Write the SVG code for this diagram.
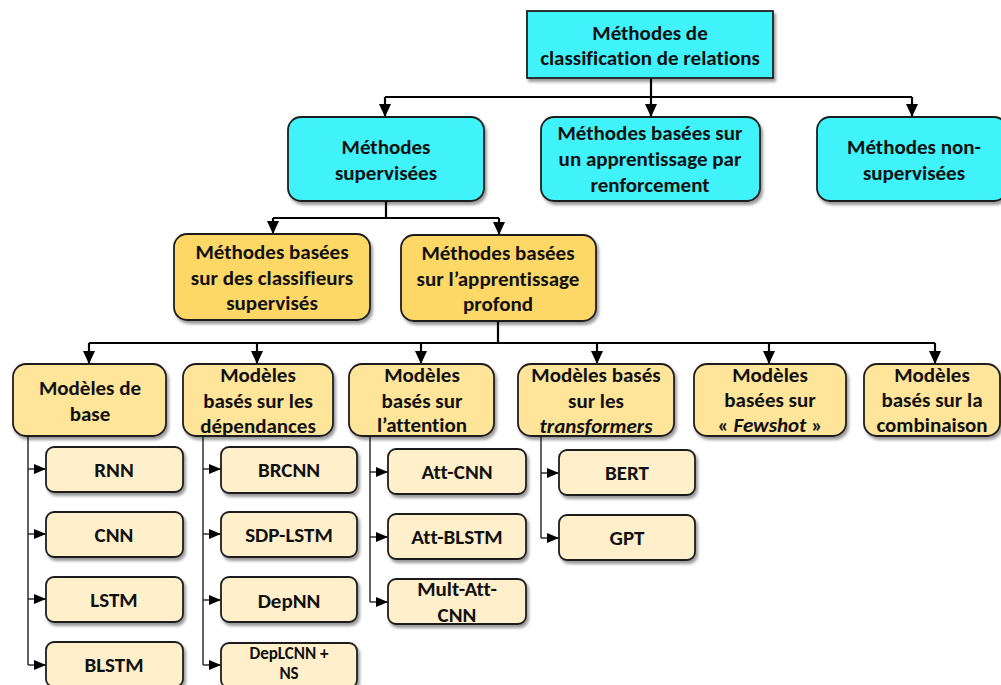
<svg xmlns="http://www.w3.org/2000/svg" width="1001" height="685" viewBox="0 0 1001 685">
  <style>
    text { font-family: Carlito, Lato, "Liberation Sans", sans-serif; font-weight: bold; font-size: 21px; fill: #111; text-anchor: middle; font-variant-ligatures: none; }
    .box { stroke: #1e1e1e; stroke-width: 1.8; filter: url(#shadow); }
    .cyan { fill: #3ff3fb; }
    .gold { fill: #fed866; }
    .sand { fill: #ffe599; }
    .cream { fill: #fff0cb; }
    .link { fill: none; stroke: #000; stroke-width: 2.2; }
    .twig { fill: none; stroke: #222; stroke-width: 1.4; }
    .tight { font-size: 17px; }
  </style>
  <defs>
    <filter id="shadow" x="-10%" y="-10%" width="125%" height="135%">
      <feDropShadow dx="2" dy="3" stdDeviation="1.8" flood-color="#000" flood-opacity="0.4"/>
    </filter>
    <marker id="head" markerUnits="userSpaceOnUse" markerWidth="14" markerHeight="14" viewBox="0 0 14 14" refX="13" refY="7" orient="auto">
      <path d="M0,1 L13,7 L0,13 Z" fill="#000"/>
    </marker>
    <marker id="tip" markerUnits="userSpaceOnUse" markerWidth="12" markerHeight="12" viewBox="0 0 12 12" refX="12" refY="6" orient="auto">
      <path d="M0,1 L12,6 L0,11 Z" fill="#000"/>
    </marker>
  </defs>

  <!-- connectors -->
  <g id="connectors">
    <path class="link" d="M651,78 V97 M385,97 H912"/>
    <path class="link" d="M385,97 V117" marker-end="url(#head)"/>
    <path class="link" d="M651,97 V117" marker-end="url(#head)"/>
    <path class="link" d="M912,97 V117" marker-end="url(#head)"/>

    <path class="link" d="M386,201 V218 M273,218 H499"/>
    <path class="link" d="M273,218 V234" marker-end="url(#head)"/>
    <path class="link" d="M499,218 V235" marker-end="url(#head)"/>

    <path class="link" d="M498,321 V343 M89,343 H935"/>
    <path class="link" d="M89,343 V364" marker-end="url(#head)"/>
    <path class="link" d="M257,343 V364" marker-end="url(#head)"/>
    <path class="link" d="M421,343 V364" marker-end="url(#head)"/>
    <path class="link" d="M597,343 V364" marker-end="url(#head)"/>
    <path class="link" d="M769,343 V364" marker-end="url(#head)"/>
    <path class="link" d="M935,343 V364" marker-end="url(#head)"/>

    <!-- leaf branches -->
    <path class="twig" d="M28,436 V665"/>
    <path class="twig" d="M28,469 H46" marker-end="url(#tip)"/>
    <path class="twig" d="M28,534 H46" marker-end="url(#tip)"/>
    <path class="twig" d="M28,599 H46" marker-end="url(#tip)"/>
    <path class="twig" d="M28,665 H46" marker-end="url(#tip)"/>

    <path class="twig" d="M203,437 V665"/>
    <path class="twig" d="M203,469 H221" marker-end="url(#tip)"/>
    <path class="twig" d="M203,534 H221" marker-end="url(#tip)"/>
    <path class="twig" d="M203,600 H221" marker-end="url(#tip)"/>
    <path class="twig" d="M203,665 H221" marker-end="url(#tip)"/>

    <path class="twig" d="M370,436 V602"/>
    <path class="twig" d="M370,472 H388" marker-end="url(#tip)"/>
    <path class="twig" d="M370,537 H388" marker-end="url(#tip)"/>
    <path class="twig" d="M370,602 H388" marker-end="url(#tip)"/>

    <path class="twig" d="M541,436 V538"/>
    <path class="twig" d="M541,473 H559" marker-end="url(#tip)"/>
    <path class="twig" d="M541,538 H559" marker-end="url(#tip)"/>
  </g>

  <!-- root -->
  <g id="root">
    <rect class="box cyan" x="527" y="11" width="246" height="67"/>
    <text x="650" y="40">Méthodes de</text>
    <text x="650" y="65">classification de relations</text>
  </g>

  <!-- second level -->
  <g id="supervised">
    <rect class="box cyan" x="288" y="117" width="196" height="84" rx="13"/>
    <text x="386" y="154">Méthodes</text>
    <text x="386" y="180">supervisées</text>
  </g>
  <g id="reinforcement">
    <rect class="box cyan" x="541" y="117" width="219" height="84" rx="13"/>
    <text x="650" y="140">Méthodes basées sur</text>
    <text x="650" y="166">un apprentissage par</text>
    <text x="650" y="192">renforcement</text>
  </g>
  <g id="unsupervised">
    <rect class="box cyan" x="817" y="117" width="190" height="84" rx="13"/>
    <text x="914" y="154">Méthodes non-</text>
    <text x="914" y="180">supervisées</text>
  </g>

  <!-- third level -->
  <g id="classifiers">
    <rect class="box gold" x="174" y="234" width="196" height="86" rx="13"/>
    <text x="272" y="259">Méthodes basées</text>
    <text x="272" y="285">sur des classifieurs</text>
    <text x="272" y="310">supervisés</text>
  </g>
  <g id="deep">
    <rect class="box gold" x="401" y="235" width="195" height="86" rx="13"/>
    <text x="498" y="260">Méthodes basées</text>
    <text x="498" y="286">sur l’apprentissage</text>
    <text x="498" y="311">profond</text>
  </g>

  <!-- model families -->
  <g id="base-models">
    <rect class="box sand" x="13" y="364" width="153" height="72" rx="13"/>
    <text x="90" y="395">Modèles de</text>
    <text x="90" y="421">base</text>
  </g>
  <g id="dependency-models">
    <rect class="box sand" x="183" y="364" width="150" height="72" rx="13"/>
    <text x="258" y="382">Modèles</text>
    <text x="258" y="408">basés sur les</text>
    <text x="258" y="433">dépendances</text>
  </g>
  <g id="attention-models">
    <rect class="box sand" x="349" y="364" width="145" height="72" rx="13"/>
    <text x="422" y="382">Modèles</text>
    <text x="422" y="408">basés sur</text>
    <text x="422" y="432">l’attention</text>
  </g>
  <g id="transformer-models">
    <rect class="box sand" x="518" y="364" width="156" height="72" rx="13"/>
    <text x="596" y="382">Modèles basés</text>
    <text x="596" y="408">sur les</text>
    <text x="596" y="433" font-style="italic">transformers</text>
  </g>
  <g id="fewshot-models">
    <rect class="box sand" x="694" y="364" width="152" height="72" rx="13"/>
    <text x="770" y="382">Modèles</text>
    <text x="770" y="407">basées sur</text>
    <text x="770" y="432">« <tspan font-style="italic">Fewshot</tspan> »</text>
  </g>
  <g id="combined-models">
    <rect class="box sand" x="864" y="364" width="136" height="72" rx="13"/>
    <text x="932" y="382">Modèles</text>
    <text x="932" y="407">basés sur la</text>
    <text x="932" y="432">combinaison</text>
  </g>

  <!-- leaves: base models -->
  <g id="rnn">
    <rect class="box cream" x="46" y="447" width="137" height="45" rx="8"/>
    <text x="114" y="477">RNN</text>
  </g>
  <g id="cnn">
    <rect class="box cream" x="46" y="512" width="137" height="45" rx="8"/>
    <text x="114" y="542">CNN</text>
  </g>
  <g id="lstm">
    <rect class="box cream" x="46" y="577" width="137" height="45" rx="8"/>
    <text x="114" y="607">LSTM</text>
  </g>
  <g id="blstm">
    <rect class="box cream" x="46" y="642" width="137" height="45" rx="8"/>
    <text x="114" y="672">BLSTM</text>
  </g>

  <!-- leaves: dependency models -->
  <g id="brcnn">
    <rect class="box cream" x="221" y="447" width="136" height="46" rx="8"/>
    <text x="289" y="477">BRCNN</text>
  </g>
  <g id="sdp-lstm">
    <rect class="box cream" x="221" y="512" width="136" height="45" rx="8"/>
    <text x="289" y="542">SDP-LSTM</text>
  </g>
  <g id="depnn">
    <rect class="box cream" x="221" y="577" width="136" height="45" rx="8"/>
    <text x="289" y="608">DepNN</text>
  </g>
  <g id="deplcnn">
    <rect class="box cream" x="221" y="643" width="136" height="45" rx="8"/>
    <text class="tight" x="289" y="659">DepLCNN +</text>
    <text class="tight" x="289" y="679">NS</text>
  </g>

  <!-- leaves: attention models -->
  <g id="att-cnn">
    <rect class="box cream" x="388" y="449" width="138" height="45" rx="8"/>
    <text x="457" y="479">Att-CNN</text>
  </g>
  <g id="att-blstm">
    <rect class="box cream" x="388" y="514" width="138" height="45" rx="8"/>
    <text x="457" y="544">Att-BLSTM</text>
  </g>
  <g id="mult-att-cnn">
    <rect class="box cream" x="388" y="579" width="138" height="45" rx="8"/>
    <text x="457" y="596">Mult-Att-</text>
    <text x="457" y="622">CNN</text>
  </g>

  <!-- leaves: transformer models -->
  <g id="bert">
    <rect class="box cream" x="559" y="450" width="136" height="45" rx="8"/>
    <text x="627" y="480">BERT</text>
  </g>
  <g id="gpt">
    <rect class="box cream" x="559" y="515" width="136" height="45" rx="8"/>
    <text x="627" y="545">GPT</text>
  </g>
</svg>
